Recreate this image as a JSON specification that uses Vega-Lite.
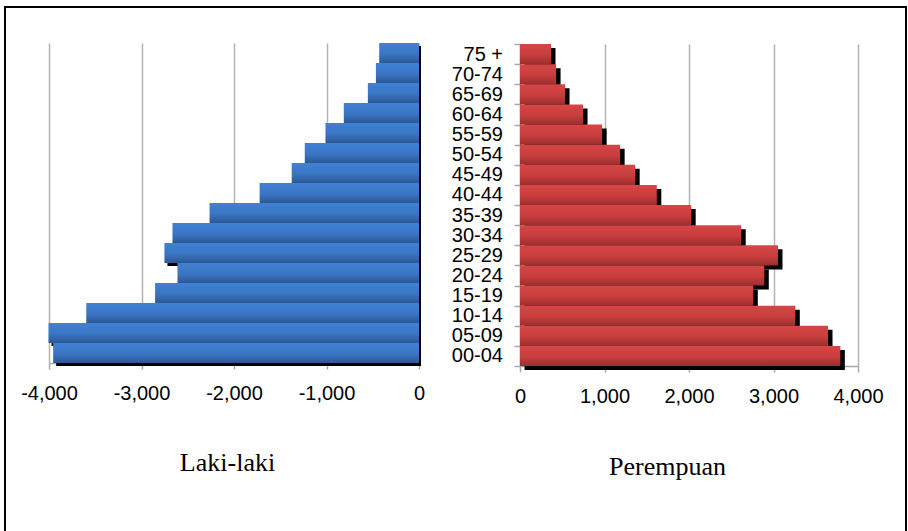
{
  "$schema": "https://vega.github.io/schema/vega-lite/v6.json",
  "width": 901,
  "height": 531,
  "autosize": "none",
  "padding": {"left": 5, "top": 7, "right": 2, "bottom": 0},
  "background": "white",
  "config": {
    "view": {"stroke": "black", "strokeWidth": 2},
    "font": "Liberation Sans",
    "locale": {"number": {"decimal": ".", "thousands": ",", "grouping": [3], "currency": ["$", ""], "minus": "-"}}
  },
  "data": {
    "values": [
      {"age": "75 +", "male": -430, "female": 367},
      {"age": "70-74", "male": -466, "female": 427},
      {"age": "65-69", "male": -553, "female": 533},
      {"age": "60-64", "male": -813, "female": 746},
      {"age": "55-59", "male": -1011, "female": 972},
      {"age": "50-54", "male": -1235, "female": 1185},
      {"age": "45-49", "male": -1376, "female": 1363},
      {"age": "40-44", "male": -1723, "female": 1619},
      {"age": "35-39", "male": -2264, "female": 2026},
      {"age": "30-34", "male": -2665, "female": 2618},
      {"age": "25-29", "male": -2752, "female": 3053},
      {"age": "20-24", "male": -2611, "female": 2891},
      {"age": "15-19", "male": -2853, "female": 2761},
      {"age": "10-14", "male": -3597, "female": 3258},
      {"age": "05-09", "male": -4005, "female": 3645},
      {"age": "00-04", "male": -3955, "female": 3791}
    ]
  },
  "layer": [
    {
      "encoding": {
        "y": {
          "field": "age", "type": "nominal",
          "sort": ["75 +", "70-74", "65-69", "60-64", "55-59", "50-54", "45-49", "40-44", "35-39", "30-34", "25-29", "20-24", "15-19", "10-14", "05-09", "00-04"],
          "scale": {"range": [36, 356], "paddingInner": 0, "paddingOuter": 0},
          "axis": null
        },
        "x2": {"datum": 0}
      },
      "layer": [
        {
          "mark": {"type": "bar", "color": "black", "xOffset": 3, "x2Offset": 2, "yOffset": 3},
          "encoding": {
            "x": {
              "field": "male", "type": "quantitative", "stack": null,
              "scale": {"domain": [-4000, 0], "range": [44, 414], "nice": false, "zero": false},
              "axis": {
                "orient": "bottom", "offset": -175,
                "values": [-4000, -3000, -2000, -1000, 0], "format": ",d",
                "grid": false,
                "domainColor": "#a8a8a8", "domainWidth": 1.5,
                "tickColor": "#a8a8a8", "tickSize": 6, "tickWidth": 1.5,
                "labelFontSize": 20, "labelColor": "black", "labelPadding": 30, "labelBaseline": "alphabetic",
                "labelFlush": false, "labelOverlap": false,
                "title": "Laki-laki", "titleFont": "Liberation Serif", "titleFontSize": 26, "titleFontWeight": "normal",
                "titleColor": "black", "titleX": 222, "titleY": 107.5, "titleAlign": "center", "titleBaseline": "alphabetic"
              }
            }
          }
        },
        {
          "mark": {"type": "bar", "color": {"gradient": "linear", "x1": 0, "y1": 0, "x2": 0, "y2": 1,
            "stops": [{"offset": 0, "color": "#4081d4"}, {"offset": 0.55, "color": "#3a75c3"}, {"offset": 1, "color": "#2c5894"}]}},
          "encoding": {
            "x": {
              "field": "male", "type": "quantitative", "stack": null,
              "scale": {"domain": [-4000, 0], "range": [44, 414], "nice": false, "zero": false},
              "axis": {
                "orient": "top", "offset": 0,
                "values": [-4000, -3000, -2000, -1000, 0],
                "grid": true, "gridColor": "#b4b4b4", "gridWidth": 1.5,
                "domain": false, "ticks": false, "labels": false, "title": null
              }
            }
          }
        }
      ],
      "resolve": {"axis": {"x": "independent"}}
    },
    {
      "encoding": {
        "y": {
          "field": "age", "type": "nominal",
          "sort": ["75 +", "70-74", "65-69", "60-64", "55-59", "50-54", "45-49", "40-44", "35-39", "30-34", "25-29", "20-24", "15-19", "10-14", "05-09", "00-04"],
          "scale": {"range": [37, 359], "paddingInner": 0, "paddingOuter": 0},
          "axis": {
            "orient": "left", "offset": -515, "title": null,
            "domainColor": "#a8a8a8", "domainWidth": 1.5,
            "tickColor": "#a8a8a8", "tickSize": 6, "tickWidth": 1.5, "tickBand": "extent",
            "labelFontSize": 20, "labelColor": "black", "labelPadding": 11.5, "labelOverlap": false
          }
        },
        "x2": {"datum": 0}
      },
      "layer": [
        {
          "mark": {"type": "bar", "color": "black", "xOffset": 4.5, "x2Offset": 4.5, "yOffset": 4},
          "encoding": {
            "x": {
              "field": "female", "type": "quantitative", "stack": null,
              "scale": {"domain": [0, 4000], "range": [515, 853], "nice": false},
              "axis": {
                "orient": "bottom", "offset": -172,
                "values": [0, 1000, 2000, 3000, 4000], "format": ",d",
                "grid": false,
                "domainColor": "#a8a8a8", "domainWidth": 1.5,
                "tickColor": "#a8a8a8", "tickSize": 6, "tickWidth": 1.5,
                "labelFontSize": 20, "labelColor": "black", "labelPadding": 30, "labelBaseline": "alphabetic",
                "labelFlush": false, "labelOverlap": false,
                "title": "Perempuan", "titleFont": "Liberation Serif", "titleFontSize": 26, "titleFontWeight": "normal",
                "titleColor": "black", "titleX": 662, "titleY": 108.5, "titleAlign": "center", "titleBaseline": "alphabetic"
              }
            }
          }
        },
        {
          "mark": {"type": "bar", "color": {"gradient": "linear", "x1": 0, "y1": 0, "x2": 0, "y2": 1,
            "stops": [{"offset": 0, "color": "#d64646"}, {"offset": 0.55, "color": "#c83d3d"}, {"offset": 1, "color": "#9c2e2e"}]}},
          "encoding": {
            "x": {
              "field": "female", "type": "quantitative", "stack": null,
              "scale": {"domain": [0, 4000], "range": [515, 853], "nice": false},
              "axis": {
                "orient": "top", "offset": 0,
                "values": [0, 1000, 2000, 3000, 4000],
                "grid": true, "gridColor": "#b4b4b4", "gridWidth": 1.5,
                "domain": false, "ticks": false, "labels": false, "title": null
              }
            }
          }
        }
      ],
      "resolve": {"axis": {"x": "independent"}}
    }
  ],
  "resolve": {"scale": {"x": "independent", "y": "independent"}, "axis": {"x": "independent", "y": "independent"}}
}
